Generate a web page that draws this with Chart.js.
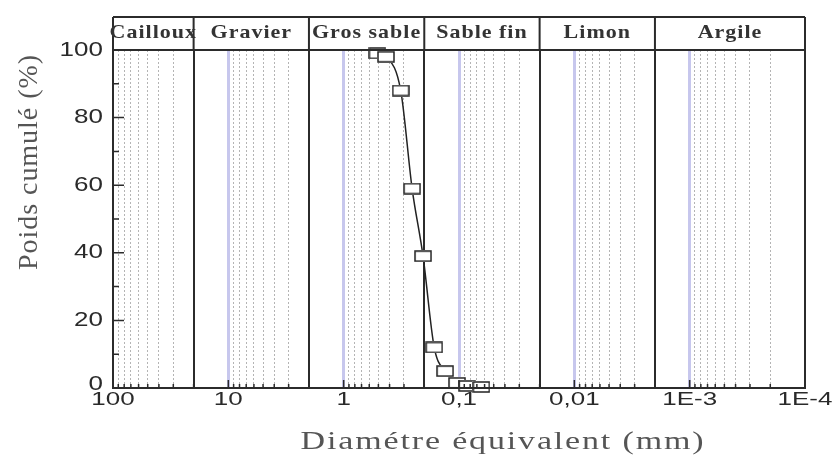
<!DOCTYPE html>
<html>
<head>
<meta charset="utf-8">
<script src="https://cdn.jsdelivr.net/npm/chart.js@4/dist/chart.umd.min.js"></script>
<style>
html, body { margin: 0; padding: 0; background: #fff; }
#wrap { width: 835px; height: 459px; }
</style>
</head>
<body>
<div id="wrap"><canvas id="granuloChart" width="835" height="459"></canvas></div>
<script>
// courbe granulométrique : diamètre (mm) / poids cumulé (%)
var diametre = [0.51, 0.43, 0.32, 0.255, 0.205, 0.164, 0.132, 0.104, 0.085, 0.064];
var cumul = [99, 98, 88, 59, 39, 12, 5, 1.5, 0.6, 0.3];

// classes granulométriques et leurs limites (mm)
var classes = ["Cailloux", "Gravier", "Gros sable", "Sable fin", "Limon", "Argile"];
var limites = [100, 20, 2, 0.2, 0.02, 0.002, 0.0001];

var xTicks = [100, 10, 1, 0.1, 0.01, 0.001, 0.0001];
var xLabels = ["100", "10", "1", "0,1", "0,01", "1E-3", "1E-4"];
var yTicks = [0, 20, 40, 60, 80, 100];
var yLabels = ["0", "20", "40", "60", "80", "100"];

// graduations secondaires du log (1..9 x 10^k)
var mineures = [];
for (var k = -4; k <= 1; k++) {
    for (var m = 1; m <= 9; m++) {
        mineures.push(+(m * Math.pow(10, k)).toPrecision(3));
    }
}
mineures.push(100);

function estDecade(v) {
    var l = Math.log10(v);
    return Math.abs(l - Math.round(l)) < 1e-6;
}
function estLimite(v) {
    return limites.some(function (l) { return Math.abs(l - v) / l < 1e-6; });
}

// marqueur rectangle blanc
var carre = document.createElement('canvas');
carre.width = 18; carre.height = 12;
var cc = carre.getContext('2d');
cc.fillStyle = '#fff';
cc.fillRect(0, 0, 18, 12);
cc.strokeStyle = '#222';
cc.lineWidth = 1.5;
cc.strokeRect(1, 1, 16, 10);

function texte(ctx, str, x, y, o) {
    ctx.save();
    ctx.font = o.font;
    ctx.fillStyle = o.color;
    ctx.textAlign = o.align || 'center';
    ctx.textBaseline = o.baseline || 'middle';
    if (o.fit) {
        ctx.letterSpacing = '0px';
        var w = ctx.measureText(str).width;
        var ls = (o.fit - w) / (str.length - 1);
        ctx.letterSpacing = ls.toFixed(2) + 'px';
    } else if (o.spacing) {
        ctx.letterSpacing = o.spacing + 'px';
    }
    ctx.translate(x, y);
    if (o.rot) ctx.rotate(o.rot);
    ctx.scale(1, o.sy || 1);
    ctx.fillText(str, 0, 0);
    ctx.restore();
}

var cadrePlugin = {
    id: 'cadre',
    afterDraw: function (chart) {
        var ctx = chart.ctx;
        var a = chart.chartArea;
        var xs = chart.scales.x;
        var ys = chart.scales.y;
        var hautTop = a.top - 33;

        ctx.save();
        ctx.strokeStyle = '#2b2b2b';

        // graduations intérieures
        ctx.lineWidth = 1.5;
        ctx.beginPath();
        for (var v = 0; v <= 100; v += 10) {
            var py = ys.getPixelForValue(v);
            var len = (v % 20 === 0) ? 11 : 6;
            ctx.moveTo(a.left, py);
            ctx.lineTo(a.left + len, py);
        }
        mineures.forEach(function (val) {
            var px = xs.getPixelForValue(val);
            var len = estDecade(val) ? 8 : 4;
            ctx.moveTo(px, a.bottom);
            ctx.lineTo(px, a.bottom - len);
        });
        ctx.stroke();

        // cadre du graphe
        ctx.lineWidth = 2;
        ctx.strokeRect(a.left, a.top, a.right - a.left, a.bottom - a.top);

        // bandeau des classes
        ctx.beginPath();
        ctx.moveTo(a.left, hautTop);
        ctx.lineTo(a.right, hautTop);
        limites.forEach(function (l) {
            var px = xs.getPixelForValue(l);
            ctx.moveTo(px, hautTop);
            ctx.lineTo(px, a.top);
        });
        ctx.stroke();
        ctx.restore();

        for (var i = 0; i < classes.length; i++) {
            var x1 = xs.getPixelForValue(limites[i]);
            var x2 = xs.getPixelForValue(limites[i + 1]);
            texte(ctx, classes[i], (x1 + x2) / 2, 38, {
                font: 'bold 22px "Liberation Serif"', color: '#333',
                baseline: 'alphabetic', spacing: 1, sy: 0.84
            });
        }

        // étiquettes des axes
        xTicks.forEach(function (val, j) {
            texte(ctx, xLabels[j], xs.getPixelForValue(val), 405, {
                font: '26px "Liberation Sans"', color: '#2a2a2a',
                baseline: 'alphabetic', sy: 0.72
            });
        });
        yTicks.forEach(function (val, j) {
            texte(ctx, yLabels[j], 103, ys.getPixelForValue(val) - (val === 0 ? 4 : 0), {
                font: '26px "Liberation Sans"', color: '#2a2a2a',
                align: 'right', sy: 0.78
            });
        });

        // titres
        texte(ctx, 'Diamétre équivalent (mm)', 503, 449, {
            font: '34px "Liberation Serif"', color: '#555',
            baseline: 'alphabetic', fit: 403, sy: 0.74
        });
        texte(ctx, 'Poids cumulé (%)', 37, 162, {
            font: '28px "Liberation Serif"', color: '#555',
            baseline: 'alphabetic', fit: 215, rot: -Math.PI / 2
        });
    }
};

var ctx = document.getElementById('granuloChart').getContext('2d');
var granuloChart = new Chart(ctx, {
    type: 'scatter',
    data: {
        datasets: [{
            data: diametre.map(function (d, i) { return { x: d, y: cumul[i] }; }),
            showLine: true,
            borderColor: '#222',
            borderWidth: 1.5,
            cubicInterpolationMode: 'monotone',
            pointStyle: carre,
            pointRadius: 8,
            clip: false
        }]
    },
    options: {
        responsive: false,
        animation: false,
        layout: { padding: { top: 50, right: 30, left: 0, bottom: 0 } },
        plugins: { legend: { display: false }, tooltip: { enabled: false } },
        scales: {
            x: {
                type: 'logarithmic',
                reverse: true,
                min: 0.0001,
                max: 100,
                afterBuildTicks: function (s) {
                    s.ticks = mineures.map(function (v) { return { value: v }; });
                },
                ticks: { display: false, autoSkip: false },
                grid: {
                    drawTicks: false,
                    lineWidth: 1,
                    color: function (c) {
                        var v = c.tick ? c.tick.value : 1;
                        return (estDecade(v) || estLimite(v)) ? 'rgba(0,0,0,0)' : '#b4b4b4';
                    }
                },
                border: { display: false, dash: [2, 2] },
                afterFit: function (s) { s.height = 71; }
            },
            xDecade: {
                axis: 'x',
                type: 'logarithmic',
                position: 'bottom',
                reverse: true,
                min: 0.0001,
                max: 100,
                afterBuildTicks: function (s) {
                    s.ticks = [10, 1, 0.1, 0.01, 0.001].map(function (v) { return { value: v }; });
                },
                ticks: { display: false },
                grid: { drawTicks: false, lineWidth: 3, color: 'rgba(130,130,215,0.45)' },
                border: { display: false },
                afterFit: function (s) { s.height = 0; }
            },
            xLimite: {
                axis: 'x',
                type: 'logarithmic',
                position: 'bottom',
                reverse: true,
                min: 0.0001,
                max: 100,
                afterBuildTicks: function (s) {
                    s.ticks = limites.slice(1, 6).map(function (v) { return { value: v }; });
                },
                ticks: { display: false },
                grid: { drawTicks: false, lineWidth: 2, color: '#2b2b2b' },
                border: { display: false },
                afterFit: function (s) { s.height = 0; }
            },
            y: {
                min: 0,
                max: 100,
                ticks: { display: false, stepSize: 20 },
                grid: { display: false },
                border: { display: false },
                afterFit: function (s) { s.width = 113; }
            }
        }
    },
    plugins: [cadrePlugin]
});
</script>
</body>
</html>
